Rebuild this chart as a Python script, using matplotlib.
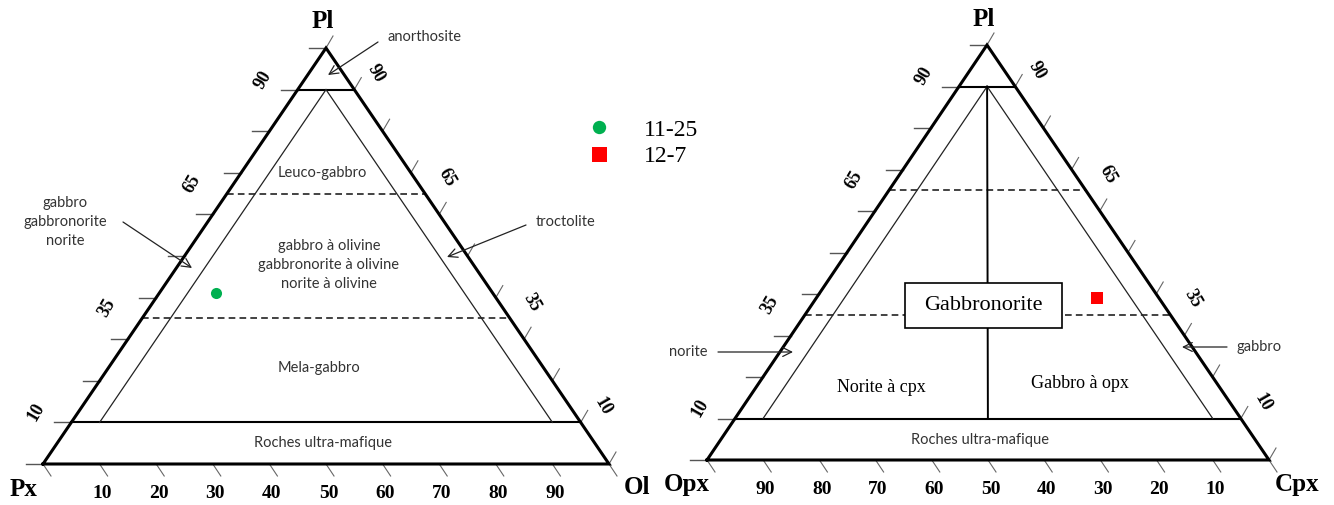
import matplotlib.pyplot as plt
from matplotlib.patches import Rectangle
import numpy as np

# ternary data (percent): top component Pl, right-corner component
samples = ['11-25', '12-7']
sample_pl = [41, 39]
sample_right = [10, 50]          # Ol for 11-25 (left diagram), Cpx for 12-7 (right)
sample_colors = ['#00b050', '#ff0000']
sample_markers = ['o', 's']

pl_levels_solid = [10, 90]
pl_levels_dashed = [35, 65]
inner_limit = 5                  # 5 % lines bounding gabbro / troctolite fields
edge_labels = [10, 35, 65, 90]
bottom_labels_left = [10, 20, 30, 40, 50, 60, 70, 80, 90]
bottom_labels_right = [90, 80, 70, 60, 50, 40, 30, 20, 10]

# triangle corners in figure pixels: (bottom-left, bottom-right, top)
TRI_L = np.array([[43, 464], [609, 464], [326, 48]], float)
TRI_R = np.array([[707, 460], [1269, 460], [987, 45]], float)

SERIF = 'Liberation Serif'
SANS = 'Lato'


def tern(tri, top, right):
    left = 100.0 - top - right
    p = (left * tri[0] + right * tri[1] + top * tri[2]) / 100.0
    return p[0], p[1]


def seg(ax, tri, a, b, **kw):
    x0, y0 = tern(tri, *a)
    x1, y1 = tern(tri, *b)
    ax.plot([x0, x1], [y0, y1], **kw)


def frame(ax, tri, names, blabels):
    xs = list(tri[:, 0]) + [tri[0, 0]]
    ys = list(tri[:, 1]) + [tri[0, 1]]
    ax.plot(xs, ys, color='black', lw=2.2, solid_joinstyle='miter', zorder=3)

    # ticks every 10 %
    for v in range(0, 101, 10):
        x, y = tern(tri, v, 0)
        ax.plot([x - 17, x], [y, y], color='#555555', lw=1.0)
        x, y = tern(tri, v, 100 - v)
        ax.plot([x, x + 7], [y, y - 12], color='#666666', lw=0.8)
        x, y = tern(tri, 0, v)
        ax.plot([x, x + 8], [y, y + 12], color='#666666', lw=0.8)

    ang = np.degrees(np.arctan2(tri[0, 1] - tri[2, 1], tri[2, 0] - tri[0, 0])) + 4
    for v in edge_labels:
        x, y = tern(tri, v, 0)
        ax.text(x - 35, y - 10, str(v), rotation=ang, ha='center', va='center',
                family=SERIF, weight='bold', fontsize=13)
        x, y = tern(tri, v, 100 - v)
        ax.text(x + 22, y - 16, str(v), rotation=-ang, ha='center', va='center',
                family=SERIF, weight='bold', fontsize=13)
    for v, lab in zip(range(10, 100, 10), blabels):
        x, y = tern(tri, 0, v)
        ax.text(x + 2.5, y + 30, str(lab), ha='center', va='center',
                family=SERIF, weight='bold', fontsize=14)

    # corner names
    bl, br, top = names
    ax.text(tri[0, 0] - 20, tri[0, 1] + 25, bl, ha='center', va='center',
            family=SERIF, weight='bold', fontsize=18)
    ax.text(tri[1, 0] + 28, tri[1, 1] + 24, br, ha='center', va='center',
            family=SERIF, weight='bold', fontsize=18)
    ax.text(tri[2, 0] - 3, tri[2, 1] - 26, top, ha='center', va='center',
            family=SERIF, weight='bold', fontsize=18)

    # field boundaries
    for v in pl_levels_solid:
        seg(ax, tri, (v, 0), (v, 100 - v), color='black', lw=1.5, zorder=2)
    for v in pl_levels_dashed:
        seg(ax, tri, (v, 0), (v, 100 - v), color='#222222', lw=1.2,
            dashes=(4, 2.5), zorder=2)
    top_pl = pl_levels_solid[1]
    low_pl = pl_levels_solid[0]
    seg(ax, tri, (top_pl, (100 - top_pl) / 2), (low_pl, inner_limit),
        color='#222222', lw=0.9)
    seg(ax, tri, (top_pl, (100 - top_pl) / 2), (low_pl, 100 - low_pl - inner_limit),
        color='#222222', lw=0.9)


def note(ax, text, xy, xytext, tx, ty, **kw):
    ax.annotate('', xy=xy, xytext=xytext,
                arrowprops=dict(arrowstyle='->', lw=0.9, color='#222222',
                                mutation_scale=16, shrinkA=0, shrinkB=0))
    ax.text(tx, ty, text, ha='center', va='center', family=SANS,
            color='#333333', linespacing=1.45, **kw)


fig = plt.figure(figsize=(13.34, 5.05), dpi=100)
ax = fig.add_axes([0, 0, 1, 1])
ax.set_xlim(0, 1334)
ax.set_ylim(505, 0)
ax.axis('off')

# --- Pl - Px - Ol ---
frame(ax, TRI_L, ('Px', 'Ol', 'Pl'), bottom_labels_left)
fs = 10.5
ax.text(322, 173, 'Leuco-gabbro', ha='center', va='center', family=SANS, color='#333333', fontsize=fs)
ax.text(329, 265, 'gabbro à olivine\ngabbronorite à olivine\nnorite à olivine',
        ha='center', va='center', family=SANS, color='#333333', fontsize=fs, linespacing=1.45)
ax.text(319, 368, 'Mela-gabbro', ha='center', va='center', family=SANS, color='#333333', fontsize=fs)
ax.text(323, 443, 'Roches ultra-mafique', ha='center', va='center', family=SANS, color='#333333', fontsize=fs)
note(ax, 'anorthosite', (328, 75), (378, 42), 424, 37, fontsize=fs)
note(ax, 'gabbro\ngabbronorite\nnorite', (192, 268), (123, 222), 65, 222, fontsize=fs)
note(ax, 'troctolite', (447, 257), (526, 225), 566, 222, fontsize=fs)

# --- Pl - Opx - Cpx ---
frame(ax, TRI_R, ('Opx', 'Cpx', 'Pl'), bottom_labels_right)
top_pl = pl_levels_solid[1]
seg(ax, TRI_R, (top_pl, (100 - top_pl) / 2), (pl_levels_solid[0], (100 - pl_levels_solid[0]) / 2),
    color='black', lw=1.4, zorder=2)
ax.add_patch(Rectangle((905, 283), 157, 45, facecolor='white', edgecolor='black',
                       lw=1.2, zorder=4))
ax.text(983, 306, 'Gabbronorite', ha='center', va='center', family=SERIF,
        fontsize=16, zorder=5)
ax.text(881, 387, 'Norite à cpx', ha='center', va='center', family=SERIF, fontsize=13)
ax.text(1080, 384, 'Gabbro à opx', ha='center', va='center', family=SERIF, fontsize=13)
ax.text(980, 440, 'Roches ultra-mafique', ha='center', va='center', family=SANS,
        color='#333333', fontsize=fs)
note(ax, 'norite', (793, 352), (718, 352), 688, 352, fontsize=fs)
note(ax, 'gabbro', (1182, 347), (1227, 347), 1259, 347, fontsize=fs)

# samples
for tri, name, pl, r, c, m, ms in zip((TRI_L, TRI_R), samples, sample_pl, sample_right,
                                     sample_colors, sample_markers, (8, 9)):
    x, y = tern(tri, pl, r)
    ax.plot([x], [y], linestyle='none', marker=m, color=c, markersize=ms,
            markeredgewidth=0, label=name, zorder=6)

ax.legend(loc='center left', bbox_to_anchor=(575, 143), bbox_transform=ax.transData,
          frameon=False, prop={'family': SERIF, 'size': 17}, markerscale=1.2,
          handlelength=1.0, handletextpad=1.4, labelspacing=0.2, borderpad=0)

fig.savefig('out.png', dpi=100)
